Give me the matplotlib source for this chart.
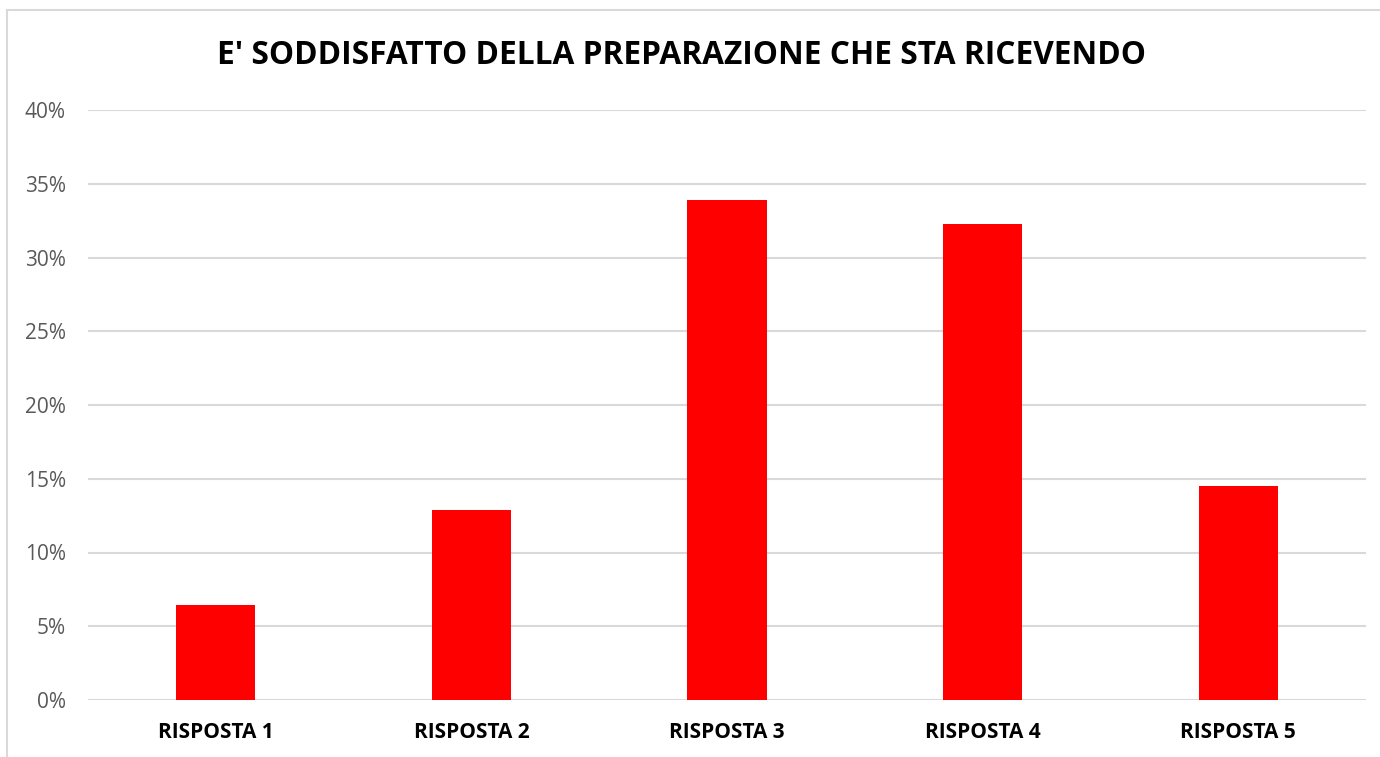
import matplotlib
matplotlib.use("Agg")
from matplotlib import pyplot as plt
from matplotlib.lines import Line2D
from matplotlib.ticker import PercentFormatter

categories = ["RISPOSTA 1", "RISPOSTA 2", "RISPOSTA 3", "RISPOSTA 4", "RISPOSTA 5"]
values = [4/62, 8/62, 21/62, 20/62, 9/62]
yticks = [0, 0.05, 0.10, 0.15, 0.20, 0.25, 0.30, 0.35, 0.40]

plt.rcParams['font.family'] = ['Open Sans', 'DejaVu Sans']

fig = plt.figure(figsize=(13.8, 7.57), dpi=100)
ax = fig.add_axes([88/1380, 1-700/757, (1366-88)/1380, (700-110)/757])

ax.bar(range(len(categories)), values, width=0.31, color='#ff0000', zorder=3)
ax.set_xlim(-0.5, len(categories)-0.5)
ax.set_ylim(0, 0.4)
ax.set_yticks(yticks)
ax.yaxis.set_major_formatter(PercentFormatter(1.0, decimals=0))
ax.set_xticks(range(len(categories)))
ax.set_xticklabels(categories, fontweight='bold', fontsize=15, color='black')
ax.tick_params(axis='y', labelsize=15, colors='#595959', length=0, pad=16)
ax.tick_params(axis='x', length=0, pad=16)
ax.grid(axis='y', color='#d9d9d9', linewidth=1.5, zorder=0)
for s in ax.spines.values():
    s.set_visible(False)

fig.text(0.494, 1-56/757, "E' SODDISFATTO DELLA PREPARAZIONE CHE STA RICEVENDO",
         ha='center', va='center', fontsize=22.8, fontweight='bold')

# outer chart frame
x0 = 7/1380
y0 = 1-10/757
fig.add_artist(Line2D([x0, x0], [0, y0], color='#d9d9d9', lw=1.5))
fig.add_artist(Line2D([x0, 1], [y0, y0], color='#d9d9d9', lw=1.5))

fig.savefig("out.png", dpi=100)
